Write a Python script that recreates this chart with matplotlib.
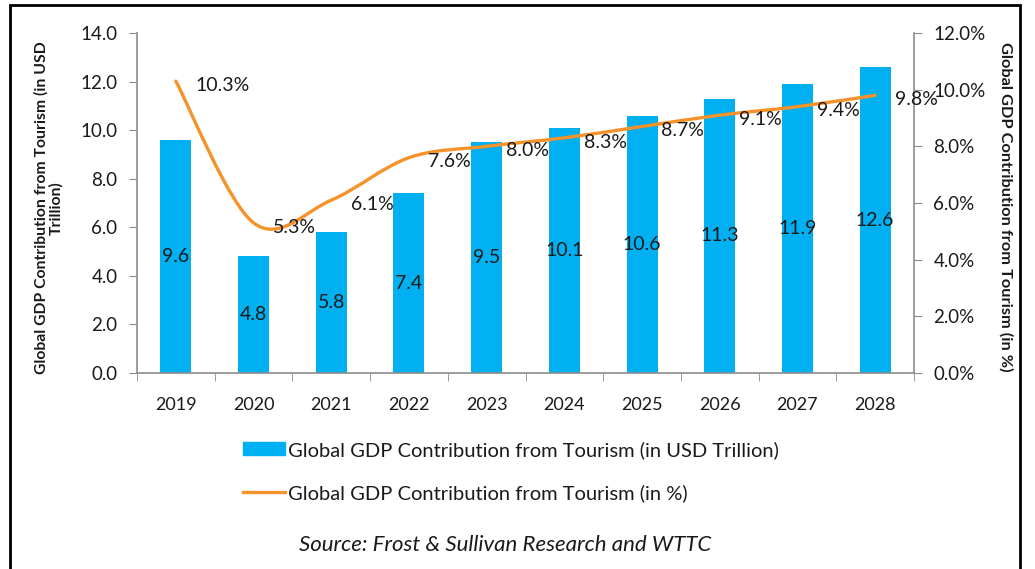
import matplotlib.pyplot as plt
from matplotlib.path import Path
from matplotlib.patches import PathPatch, Rectangle, Patch
from matplotlib.lines import Line2D

plt.rcParams['font.family'] = ['Lato', 'DejaVu Sans']

years = ['2019', '2020', '2021', '2022', '2023', '2024', '2025', '2026', '2027', '2028']
gdp_usd_tn = [9.6, 4.8, 5.8, 7.4, 9.5, 10.1, 10.6, 11.3, 11.9, 12.6]
gdp_share_pct = [10.3, 5.3, 6.1, 7.6, 8.0, 8.3, 8.7, 9.1, 9.4, 9.8]

bar_color = '#00B0F0'
line_color = '#F5922A'
spine_color = '#8C8C8C'
text_color = '#1A1A1A'


def smooth_path(xs, ys):
    # Excel style smoothed line: cubic bezier through every point
    n = len(xs)
    verts = [(xs[0], ys[0])]
    codes = [Path.MOVETO]
    for i in range(n - 1):
        xp, yp = xs[max(i - 1, 0)], ys[max(i - 1, 0)]
        xn, yn = xs[min(i + 2, n - 1)], ys[min(i + 2, n - 1)]
        c1 = (xs[i] + (xs[i + 1] - xp) / 6, ys[i] + (ys[i + 1] - yp) / 6)
        c2 = (xs[i + 1] - (xn - xs[i]) / 6, ys[i + 1] - (yn - ys[i]) / 6)
        verts += [c1, c2, (xs[i + 1], ys[i + 1])]
        codes += [Path.CURVE4] * 3
    return Path(verts, codes)


fig = plt.figure(figsize=(10.35, 5.69), dpi=100)
ax = fig.add_axes([137 / 1035, 1 - 373 / 569, (914 - 137) / 1035, 340 / 569])
ax2 = ax.twinx()

x = list(range(len(years)))
bars = ax.bar(x, gdp_usd_tn, width=0.4, color=bar_color, zorder=2)
ax.bar_label(bars, labels=[f'{v:.1f}' for v in gdp_usd_tn], label_type='center',
             fontsize=14, color=text_color)

ax.set_xlim(-0.5, len(years) - 0.5)
ax.set_ylim(0, 14)
ax.set_yticks([0, 2, 4, 6, 8, 10, 12, 14])
ax.set_yticklabels([f'{v:.1f}' for v in [0, 2, 4, 6, 8, 10, 12, 14]])
ax.set_xticks(x)
ax.set_xticklabels(years)
ax.set_xticks([i - 0.5 for i in range(len(years) + 1)], minor=True)
ax.tick_params(axis='x', which='major', length=0, pad=17, labelsize=13, labelcolor=text_color)
ax.tick_params(axis='x', which='minor', length=6, color=spine_color)
ax.tick_params(axis='y', length=6, pad=8, color=spine_color, labelsize=13.5, labelcolor=text_color)

ax2.set_ylim(0, 12)
ax2.set_yticks([0, 2, 4, 6, 8, 10, 12])
ax2.set_yticklabels([f'{v:.1f}%' for v in [0, 2, 4, 6, 8, 10, 12]])
ax2.tick_params(axis='y', length=6, pad=8, color=spine_color, labelsize=13.5, labelcolor=text_color)

ax2.add_patch(PathPatch(smooth_path(x, gdp_share_pct), fill=False, ec=line_color,
                        lw=2.4, capstyle='round', zorder=3))
for i, v in enumerate(gdp_share_pct):
    ax2.annotate(f'{v:.1f}%', (i, v), xytext=(14, -3), textcoords='offset points',
                 ha='left', va='center', fontsize=14, color=text_color)

for a in (ax, ax2):
    for s in a.spines.values():
        s.set_color(spine_color)
        s.set_linewidth(1.2)
    a.spines['top'].set_visible(False)
ax.spines['right'].set_visible(False)
ax2.spines['left'].set_visible(False)
ax2.spines['bottom'].set_visible(False)

fig.text(49 / 1035, 1 - 208 / 569, 'Global GDP Contribution from Tourism (in USD\nTrillion)',
         rotation=90, ha='center', va='center', fontsize=11.3, fontweight='bold',
         multialignment='center', color=text_color, linespacing=1.05)
fig.text(1006 / 1035, 1 - 207 / 569, 'Global GDP Contribution from Tourism (in %)',
         rotation=270, ha='center', va='center', fontsize=11.8, fontweight='bold', color=text_color)

handles = [Patch(color=bar_color), Line2D([], [], color=line_color, lw=2.4)]
labels = ['Global GDP Contribution from Tourism (in USD Trillion)',
          'Global GDP Contribution from Tourism (in %)']
fig.legend(handles, labels, loc='upper left', bbox_to_anchor=(243 / 1035, 1 - 441 / 569),
           frameon=False, fontsize=14.5, handlelength=2.1, handleheight=0.6, handletextpad=0.15,
           labelspacing=1.25, borderpad=0, borderaxespad=0, labelcolor=text_color)

fig.text(505 / 1035, 1 - 545 / 569, 'Source: Frost & Sullivan Research and WTTC',
         style='italic', ha='center', va='center', fontsize=16, color=text_color)

fig.add_artist(Rectangle((10 / 1035, -0.05), 1010 / 1035, 1 - 5 / 569 + 0.05,
                         transform=fig.transFigure, fill=False, ec='black', lw=2))

fig.savefig('out.png', dpi=100)
